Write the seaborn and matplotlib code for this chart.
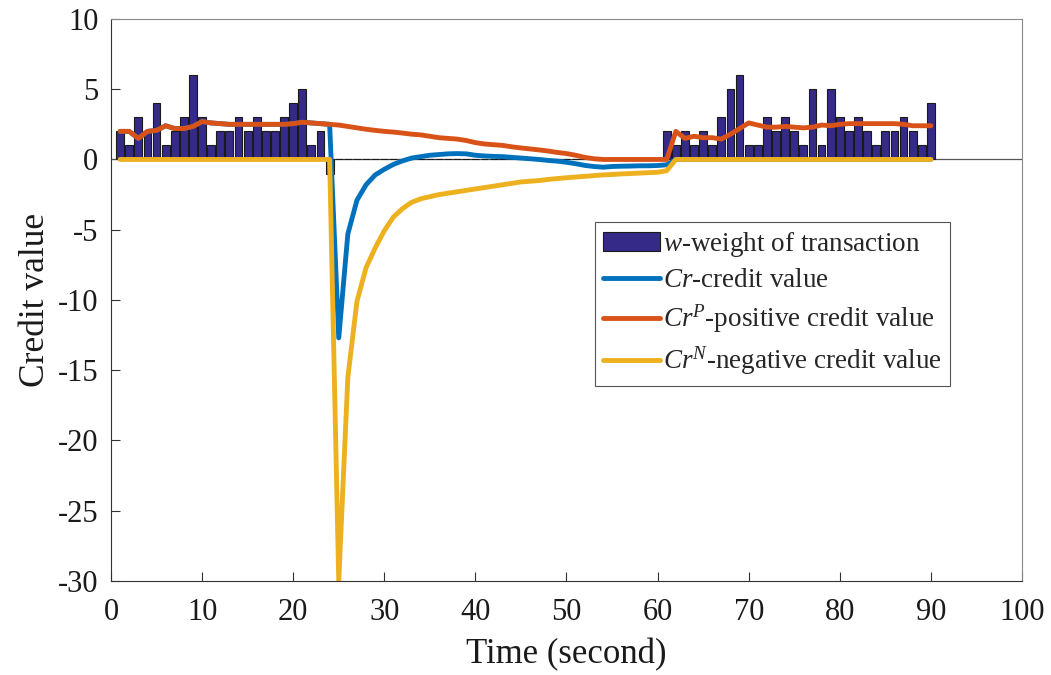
import numpy as np
import pandas as pd
import matplotlib
matplotlib.use("Agg")
import matplotlib.pyplot as plt
import seaborn as sns

# tempo (s) 1..90
time = list(range(1, 91))

# peso das transacoes (w)
weight_left = [2, 1, 3, 2, 4, 1, 2, 3, 6, 3, 1, 2, 2, 3, 2, 3, 2, 2, 3, 4, 5, 1, 2, -1]
weight_mid = [0] * 36
weight_right = [2, 1, 2, 1, 2, 1, 3, 5, 6, 1, 1, 3, 2, 3, 2, 1, 5, 1, 5, 3,
                2, 3, 2, 1, 2, 2, 3, 2, 1, 4]
weight = weight_left + weight_mid + weight_right

# Cr^P - credito positivo
cr_pos_left = [2.0, 2.0, 1.5, 2.0, 2.07, 2.4, 2.2, 2.2, 2.35, 2.7, 2.6, 2.55,
               2.5, 2.5, 2.5, 2.5, 2.5, 2.5, 2.5, 2.55, 2.65, 2.6, 2.55, 2.5]
cr_pos_mid = [2.45, 2.35, 2.25, 2.15, 2.07, 2.0, 1.95, 1.88, 1.8, 1.75, 1.65,
              1.55, 1.5, 1.45, 1.35, 1.2, 1.1, 1.05, 1.0, 0.9, 0.82, 0.75,
              0.68, 0.6, 0.5, 0.42, 0.3, 0.15, 0.05, 0.0, 0.0, 0.0, 0.0, 0.0,
              0.0, 0.0, 0.0]
cr_pos_right = [2.0, 1.5, 1.65, 1.55, 1.55, 1.45, 1.8, 2.2, 2.6, 2.45, 2.3,
                2.3, 2.35, 2.3, 2.25, 2.3, 2.45, 2.4, 2.5, 2.55, 2.55, 2.55,
                2.55, 2.55, 2.55, 2.5, 2.4, 2.4, 2.4]
cr_pos = cr_pos_left + cr_pos_mid + cr_pos_right

# Cr - credito
cr_mid = [-12.7, -5.3, -2.9, -1.8, -1.1, -0.7, -0.35, -0.1, 0.1, 0.2, 0.3,
          0.35, 0.4, 0.42, 0.4, 0.3, 0.25, 0.22, 0.2, 0.15, 0.1, 0.05, 0.0,
          -0.07, -0.12, -0.2, -0.3, -0.42, -0.5, -0.55, -0.5, -0.48, -0.47,
          -0.45, -0.45, -0.43, -0.38]
cr = cr_pos_left + cr_mid + [0.0] * 29

# Cr^N - credito negativo
cr_neg_mid = [-30.0, -15.5, -10.1, -7.7, -6.3, -5.07, -4.1, -3.5, -3.05, -2.8,
              -2.65, -2.5, -2.4, -2.3, -2.2, -2.1, -2.0, -1.9, -1.8, -1.7,
              -1.6, -1.55, -1.5, -1.42, -1.36, -1.3, -1.25, -1.2, -1.15, -1.1,
              -1.07, -1.03, -1.0, -0.97, -0.94, -0.91, -0.8]
cr_neg = [0.0] * 24 + cr_neg_mid + [0.0] * 29

df = pd.DataFrame({"time": time, "w": weight, "cr": cr, "crp": cr_pos, "crn": cr_neg})

sns.set_style("ticks")
plt.rcParams["font.family"] = ["Liberation Serif", "DejaVu Serif"]
plt.rcParams["mathtext.fontset"] = "custom"
plt.rcParams["mathtext.rm"] = "Liberation Serif"
plt.rcParams["mathtext.it"] = "Liberation Serif:italic"
plt.rcParams["axes.unicode_minus"] = False

fig = plt.figure(figsize=(10.51, 6.75), dpi=100)
ax = fig.add_axes([0.1056, 0.1393, 0.8668, 0.8326])

ax.axhline(0, color="#555555", lw=0.9, zorder=1)
sns.barplot(data=df, x="time", y="w", native_scale=True, orient="x",
            color="#352a87", saturation=1, width=0.86, edgecolor="#1a1a1a",
            linewidth=0.8, errorbar=None, ax=ax, label="$w$-weight of transaction")
sns.lineplot(data=df, x="time", y="cr", color="#0072BD", lw=3.5, ax=ax,
             label="$Cr$-credit value")
sns.lineplot(data=df, x="time", y="crp", color="#D95319", lw=3.5, ax=ax,
             label="$Cr^P$-positive credit value")
sns.lineplot(data=df, x="time", y="crn", color="#EDB120", lw=3.5, ax=ax,
             label="$Cr^N$-negative credit value")

ax.set_xlim(0, 100)
ax.set_ylim(-30, 10)
ax.set_xticks(range(0, 101, 10))
ax.set_yticks(range(-30, 11, 5))
ax.set_xticklabels([str(v) for v in range(0, 101, 10)])
ax.tick_params(direction="in", length=6.5, width=0.8, labelsize=22, pad=9,
               color="#333333", labelcolor="#1a1a1a")
ax.tick_params(axis="x", pad=12)
ax.set_xlabel("Time (second)", fontsize=25, color="#1a1a1a", labelpad=8)
ax.set_ylabel("Credit value", fontsize=25.5, color="#1a1a1a", labelpad=4)
for side in ["left", "bottom"]:
    ax.spines[side].set_color("#333333")
    ax.spines[side].set_linewidth(0.8)
for side in ["top", "right"]:
    ax.spines[side].set_visible(True)
    ax.spines[side].set_color("#888888")
    ax.spines[side].set_linewidth(0.8)

handles, labels = ax.get_legend_handles_labels()
order = [labels.index(l) for l in ["$w$-weight of transaction", "$Cr$-credit value",
                                    "$Cr^P$-positive credit value",
                                    "$Cr^N$-negative credit value"]]
leg = ax.legend([handles[i] for i in order], [labels[i] for i in order],
                loc="upper left", bbox_to_anchor=(0.531, 0.639), fontsize=19.5,
                frameon=True, fancybox=False, framealpha=1, edgecolor="#555555",
                handlelength=2.1, handletextpad=0.12, labelspacing=0.35,
                borderpad=0.3, borderaxespad=0)
leg.get_frame().set_linewidth(0.8)

fig.savefig("out.png", dpi=100)
